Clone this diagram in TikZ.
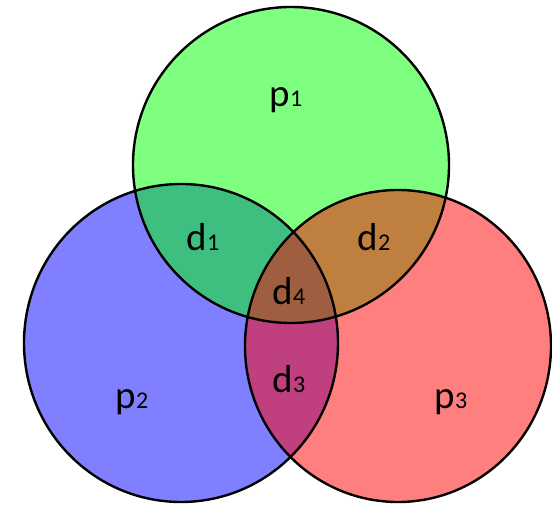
\documentclass[tikz,border=0pt]{standalone}
\usepackage{fontspec}
\setmainfont{Carlito}
\newcommand{\setlbl}[2]{{\fontsize{39}{44}\selectfont #1}{\fontsize{24}{28}\selectfont #2}}
\begin{document}
\begin{tikzpicture}[x=1pt,y=-1pt]
\useasboundingbox (0,0) rectangle (552,505);

\coordinate (cb) at (181,343);
\coordinate (cg) at (291,165);
\coordinate (cr) at (398,346);

\begin{scope}[fill opacity=0.5]
    \fill [blue] (cb) ellipse [x radius=157pt, y radius=159pt];
    \fill [green] (cg) circle (158pt);
    \fill [red] (cr) ellipse [x radius=153pt, y radius=156pt];
\end{scope}

\begin{scope}[line width=2.4pt]
    \draw (cb) ellipse [x radius=157pt, y radius=159pt];
    \draw (cg) circle (158pt);
    \draw (cr) ellipse [x radius=153pt, y radius=156pt];
\end{scope}

\begin{scope}[every node/.style={anchor=base,inner sep=0pt}]
    \node (p1) at (286,107) {\setlbl{p}{1}};
    \node (p2) at (132,408) {\setlbl{p}{2}};
    \node (p3) at (451,408) {\setlbl{p}{3}};

    \node (d1) at (203,251) {\setlbl{d}{1}};
    \node (d2) at (374,251) {\setlbl{d}{2}};
    \node (d3) at (289,392) {\setlbl{d}{3}};
    \node (d4) at (289,305) {\setlbl{d}{4}};
\end{scope}

\end{tikzpicture}
\end{document}
